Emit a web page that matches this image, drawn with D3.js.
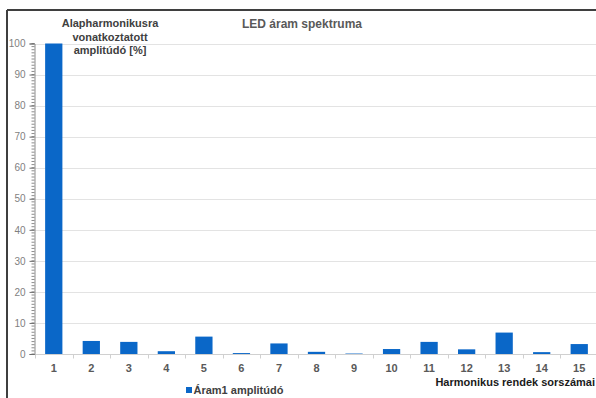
<!DOCTYPE html>
<html>
<head>
<meta charset="utf-8">
<script src="https://cdn.jsdelivr.net/npm/d3@7"></script>
<style>
  html, body { margin: 0; padding: 0; background: #fff; }
  svg { display: block; font-family: "Liberation Sans", Arial, sans-serif; }
</style>
</head>
<body>
<svg id="chart" width="596" height="398"></svg>
<script>
// Harmonic orders and their amplitudes relative to the fundamental (%)
const harmonics = ["1","2","3","4","5","6","7","8","9","10","11","12","13","14","15"];
const amplitudes = [100, 4.2, 3.9, 0.9, 5.6, 0.3, 3.4, 0.7, 0.15, 1.6, 3.9, 1.5, 6.9, 0.6, 3.2];
const yTicks = [0, 10, 20, 30, 40, 50, 60, 70, 80, 90, 100];
const seriesName = "Áram1 amplitúdó";
const chartTitle = "LED áram spektruma";
const yTitleLines = ["Alapharmonikusra", "vonatkoztatott", "amplitúdó [%]"];
const xTitle = "Harmonikus rendek sorszámai";

const svg = d3.select("#chart");
const barColor = "#0a67c8";

const x = d3.scaleBand()
  .domain(harmonics)
  .range([35, 598])
  .paddingInner(0.54)
  .paddingOuter(0.27);

const y = d3.scaleLinear().domain([0, 100]).range([354, 43.5]);

// outer frame (top and left edges)
svg.append("line").attr("x1", 7).attr("x2", 596).attr("y1", 10).attr("y2", 10)
  .attr("stroke", "#3f3f3f").attr("stroke-width", 2);
svg.append("line").attr("x1", 7).attr("x2", 7).attr("y1", 10).attr("y2", 398)
  .attr("stroke", "#3f3f3f").attr("stroke-width", 2);

// horizontal gridlines
svg.append("g").selectAll("line").data(yTicks.filter(d => d > 0)).join("line")
  .attr("x1", 35).attr("x2", 596)
  .attr("y1", d => Math.round(y(d)) + 0.5).attr("y2", d => Math.round(y(d)) + 0.5)
  .attr("stroke", "#e3e3e3").attr("stroke-width", 1);

// bars
svg.append("g").selectAll("rect").data(amplitudes).join("rect")
  .attr("x", (d, i) => x(harmonics[i]))
  .attr("y", d => y(d))
  .attr("width", x.bandwidth())
  .attr("height", d => y(0) - y(d))
  .attr("fill", barColor);

// x axis baseline with category separators
const step = x.step();
const xAxis = d3.axisBottom(x).tickSize(0).tickPadding(10);
const gx = svg.append("g").attr("transform", `translate(0,${Math.round(y(0)) + 0.5})`).call(xAxis);
gx.select(".domain").attr("stroke", "#d0d0d0").attr("d", "M35,0H596");
gx.selectAll(".tick text").attr("fill", "#595959").attr("font-size", 11).attr("font-weight", "bold")
  .attr("font-family", "Liberation Sans, Arial, sans-serif");
const bounds = d3.range(harmonics.length + 1).map(i => 35 + i * step).filter(v => v <= 596);
gx.append("g").selectAll("line").data(bounds).join("line")
  .attr("x1", d => Math.round(d) + 0.5).attr("x2", d => Math.round(d) + 0.5)
  .attr("y1", 0).attr("y2", 4).attr("stroke", "#d0d0d0");

// y axis with major and minor ticks
const gy = svg.append("g").attr("transform", "translate(34.5,0)")
  .call(d3.axisLeft(y).tickValues(yTicks).tickSize(5).tickPadding(4));
gy.select(".domain").attr("stroke", "#8c8c8c");
gy.selectAll(".tick line").attr("stroke", "#6e6e6e");
gy.selectAll(".tick text").attr("fill", "#7f7f7f").attr("font-size", 10)
  .attr("font-family", "Liberation Sans, Arial, sans-serif");
gy.append("g").selectAll("line").data(d3.range(0, 101)).join("line")
  .attr("x1", -3).attr("x2", 0)
  .attr("y1", d => y(d)).attr("y2", d => y(d))
  .attr("stroke", "#6e6e6e").attr("stroke-width", 0.8);

// chart title
svg.append("text").attr("x", 302).attr("y", 28).attr("text-anchor", "middle")
  .attr("font-size", 12).attr("font-weight", "bold").attr("fill", "#595959")
  .text(chartTitle);

// y axis title
svg.append("text").attr("x", 110).attr("y", 27).attr("text-anchor", "middle")
  .attr("font-size", 11).attr("font-weight", "bold").attr("fill", "#404040")
  .selectAll("tspan").data(yTitleLines).join("tspan")
  .attr("x", 110).attr("dy", (d, i) => i === 0 ? 0 : 13.5).text(d => d);

// x axis title
svg.append("text").attr("x", 595).attr("y", 386).attr("text-anchor", "end")
  .attr("font-size", 11).attr("font-weight", "bold").attr("fill", "#1a1a1a")
  .text(xTitle);

// legend
const lg = svg.append("g").attr("transform", "translate(186,387)");
lg.append("rect").attr("x", 0).attr("y", 0).attr("width", 6).attr("height", 6).attr("fill", barColor);
lg.append("text").attr("x", 7.5).attr("y", 6.5).attr("font-size", 11).attr("font-weight", "bold")
  .attr("fill", "#404040").text(seriesName);
</script>
</body>
</html>
